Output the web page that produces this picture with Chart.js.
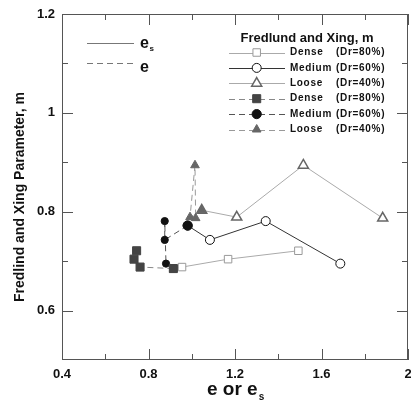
<!DOCTYPE html>
<html lang="en">
<head>
    <meta charset="UTF-8">
    <title>Fredlund and Xing m vs e</title>
    <script src="https://cdn.jsdelivr.net/npm/chart.js"></script>
    <style>
        body {
            margin: 0;
            padding: 0;
            background-color: #fff;
        }
        #wrap {
            width: 411px;
            height: 401px;
        }
    </style>
</head>
<body>
    <div id="wrap"><canvas id="myChart"></canvas></div>

    <script>
        // m parameter, shared by e and es of each sample
        const denseM = [0.685, 0.688, 0.704, 0.721];
        const denseE = [0.915, 0.761, 0.733, 0.745];
        const denseEs = [0.915, 0.955, 1.168, 1.493];

        const mediumM = [0.772, 0.743, 0.781, 0.695];
        const mediumE = [0.981, 0.875, 0.875, 0.881];
        const mediumEs = [0.981, 1.084, 1.342, 1.687];

        const looseM = [0.803, 0.789, 0.894, 0.787];
        const looseE = [1.046, 0.992, 1.015, 1.018];
        const looseEs = [1.046, 1.208, 1.516, 1.883];

        // tick labels
        const xMajor = [0.4, 0.8, 1.2, 1.6, 2];
        const xMinor = [0.6, 1.0, 1.4, 1.8];
        const yMajor = [0.6, 0.8, 1, 1.2];
        const yMinor = [0.7, 0.9, 1.1];

        const legendTitle = 'Fredlund and Xing, m';
        const legendNames = ['Dense', 'Medium', 'Loose', 'Dense', 'Medium', 'Loose'];
        const legendDr = ['(Dr=80%)', '(Dr=60%)', '(Dr=40%)', '(Dr=80%)', '(Dr=60%)', '(Dr=40%)'];

        const FONT = "'Liberation Sans', Arial, sans-serif";
        const DASH = [6, 4];

        function pts(xs, ys) {
            return xs.map((x, i) => ({ x: x, y: ys[i] }));
        }

        const datasets = [
            { label: 'Dense es', data: pts(denseEs, denseM), borderColor: '#aaa', borderWidth: 1,
              pointStyle: 'rect', pointRadius: 5.3, pointBorderColor: '#999', pointBackgroundColor: '#fff', order: 2 },
            { label: 'Medium es', data: pts(mediumEs, mediumM), borderColor: '#333', borderWidth: 1,
              pointStyle: 'circle', pointRadius: 4.5, pointBorderColor: '#111', pointBackgroundColor: '#fff', order: 2 },
            { label: 'Loose es', data: pts(looseEs, looseM), borderColor: '#aaa', borderWidth: 1,
              pointStyle: 'triangle', pointRadius: 5.8, pointBorderColor: '#666', pointBackgroundColor: '#fff', pointBorderWidth: 1.5, order: 2 },
            { label: 'Dense e', data: pts(denseE, denseM), borderColor: '#888', borderWidth: 1, borderDash: DASH,
              pointStyle: 'rect', pointRadius: 5.7, pointBorderColor: '#444', pointBackgroundColor: '#444', order: 1 },
            { label: 'Medium e', data: pts(mediumE, mediumM), borderColor: '#555', borderWidth: 1, borderDash: DASH,
              pointStyle: 'circle', pointRadius: [4.6, 3.6, 3.6, 3.6], pointBorderColor: '#111', pointBackgroundColor: '#111', order: 1 },
            { label: 'Loose e', data: pts(looseE, looseM), borderColor: '#999', borderWidth: 1, borderDash: DASH,
              pointStyle: 'triangle', pointRadius: 5, pointBorderColor: '#666', pointBackgroundColor: '#666', order: 1 }
        ];

        function near(list, v) {
            return list.find(m => Math.abs(m - v) < 1e-6);
        }

        // frame, inward ticks, titles and legends
        const decor = {
            id: 'decor',
            beforeDatasetsDraw(chart) {
                const ctx = chart.ctx;
                const a = chart.chartArea;
                const xs = chart.scales.x, ys = chart.scales.y;
                ctx.save();
                ctx.strokeStyle = '#555';
                ctx.lineWidth = 1;
                ctx.strokeRect(a.left + 0.5, a.top + 0.5, a.right - a.left - 1, a.bottom - a.top - 1);
                ctx.beginPath();
                const tick = (list, len) => {
                    list.forEach(v => {
                        const px = Math.round(xs.getPixelForValue(v)) + 0.5;
                        ctx.moveTo(px, a.bottom); ctx.lineTo(px, a.bottom - len);
                        ctx.moveTo(px, a.top); ctx.lineTo(px, a.top + len);
                    });
                };
                const ytick = (list, len) => {
                    list.forEach(v => {
                        const py = Math.round(ys.getPixelForValue(v)) + 0.5;
                        ctx.moveTo(a.left, py); ctx.lineTo(a.left + len, py);
                        ctx.moveTo(a.right, py); ctx.lineTo(a.right - len, py);
                    });
                };
                tick(xMajor, 11); tick(xMinor, 6);
                ytick(yMajor, 11); ytick(yMinor, 6);
                ctx.stroke();
                ctx.restore();
            },
            afterDraw(chart) {
                const ctx = chart.ctx;
                ctx.save();
                ctx.fillStyle = '#111';

                // y title
                ctx.save();
                ctx.translate(20, 197);
                ctx.rotate(-Math.PI / 2);
                ctx.font = 'bold 14px ' + FONT;
                ctx.textAlign = 'center';
                ctx.textBaseline = 'middle';
                ctx.fillText('Fredlind and Xing Parameter, m', 0, 0);
                ctx.restore();

                // x title with subscript
                ctx.textAlign = 'left';
                ctx.textBaseline = 'alphabetic';
                ctx.font = 'bold 19px ' + FONT;
                const main = 'e or e';
                const w = ctx.measureText(main).width;
                const x0 = 207;
                ctx.fillText(main, x0, 395);
                ctx.font = 'bold 10px ' + FONT;
                ctx.fillText('s', x0 + w + 1, 400);

                // left legend: es / e
                ctx.strokeStyle = '#777';
                ctx.lineWidth = 1;
                ctx.beginPath();
                ctx.moveTo(87, 43.5); ctx.lineTo(134, 43.5);
                ctx.stroke();
                ctx.setLineDash(DASH);
                ctx.beginPath();
                ctx.moveTo(87, 63.5); ctx.lineTo(134, 63.5);
                ctx.stroke();
                ctx.setLineDash([]);
                ctx.font = 'bold 16px ' + FONT;
                ctx.fillText('e', 140, 47.5);
                ctx.fillText('e', 140, 72);
                ctx.font = 'bold 8px ' + FONT;
                ctx.fillText('s', 149.5, 51);

                // right legend
                ctx.font = 'bold 13px ' + FONT;
                ctx.textAlign = 'center';
                ctx.textBaseline = 'middle';
                ctx.fillText(legendTitle, 307, 38);
                ctx.textAlign = 'left';
                ctx.font = 'bold 10px ' + FONT;
                ctx.letterSpacing = '0.7px';
                chart.data.datasets.forEach((ds, i) => {
                    const y = 52.5 + i * 15.4;
                    ctx.strokeStyle = ds.borderColor;
                    ctx.lineWidth = 1;
                    ctx.setLineDash(ds.borderDash || []);
                    ctx.beginPath();
                    ctx.moveTo(229, Math.round(y) + 0.5);
                    ctx.lineTo(285, Math.round(y) + 0.5);
                    ctx.stroke();
                    ctx.setLineDash([]);
                    const r = Array.isArray(ds.pointRadius) ? ds.pointRadius[0] : ds.pointRadius;
                    ctx.fillStyle = ds.pointBackgroundColor;
                    ctx.strokeStyle = ds.pointBorderColor;
                    ctx.lineWidth = ds.pointBorderWidth || 1;
                    Chart.helpers.drawPoint(ctx, { pointStyle: ds.pointStyle, radius: r, rotation: 0, borderWidth: ctx.lineWidth }, 256.7, y);
                    ctx.fillStyle = '#111';
                    ctx.fillText(legendNames[i], 290, y);
                    ctx.fillText(legendDr[i], 336, y);
                });
                ctx.restore();
            }
        };

        function renderChart() {
            const ctx = document.getElementById('myChart').getContext('2d');
            new Chart(ctx, {
                type: 'line',
                data: { datasets: datasets },
                options: {
                    responsive: true,
                    maintainAspectRatio: false,
                    animation: false,
                    layout: { autoPadding: false, padding: { top: 14, right: 3, left: 0, bottom: 0 } },
                    plugins: {
                        legend: { display: false },
                        tooltip: { enabled: false }
                    },
                    scales: {
                        x: {
                            type: 'linear',
                            min: 0.4,
                            max: 2,
                            afterBuildTicks: s => { s.ticks = xMajor.map(v => ({ value: v })); },
                            afterFit: s => { s.height = 41; s.paddingLeft = 0; s.paddingRight = 0; },
                            grid: { display: false, drawTicks: false, tickLength: 0 },
                            border: { display: false },
                            ticks: {
                                padding: 7,
                                color: '#111',
                                font: { family: FONT, size: 13, weight: 'bold' },
                                maxRotation: 0,
                                callback: v => { const m = near(xMajor, v); return m === undefined ? '' : String(m); }
                            }
                        },
                        y: {
                            min: 0.5,
                            max: 1.2,
                            afterBuildTicks: s => { s.ticks = yMajor.map(v => ({ value: v })); },
                            afterFit: s => { s.width = 62; s.paddingTop = 0; s.paddingBottom = 0; },
                            grid: { display: false, drawTicks: false, tickLength: 0 },
                            border: { display: false },
                            ticks: {
                                padding: 7,
                                color: '#111',
                                font: { family: FONT, size: 13, weight: 'bold' },
                                callback: v => { const m = near(yMajor, v); return m === undefined ? '' : String(m); }
                            }
                        }
                    }
                },
                plugins: [decor]
            });
        }

        renderChart();
    </script>
</body>
</html>
